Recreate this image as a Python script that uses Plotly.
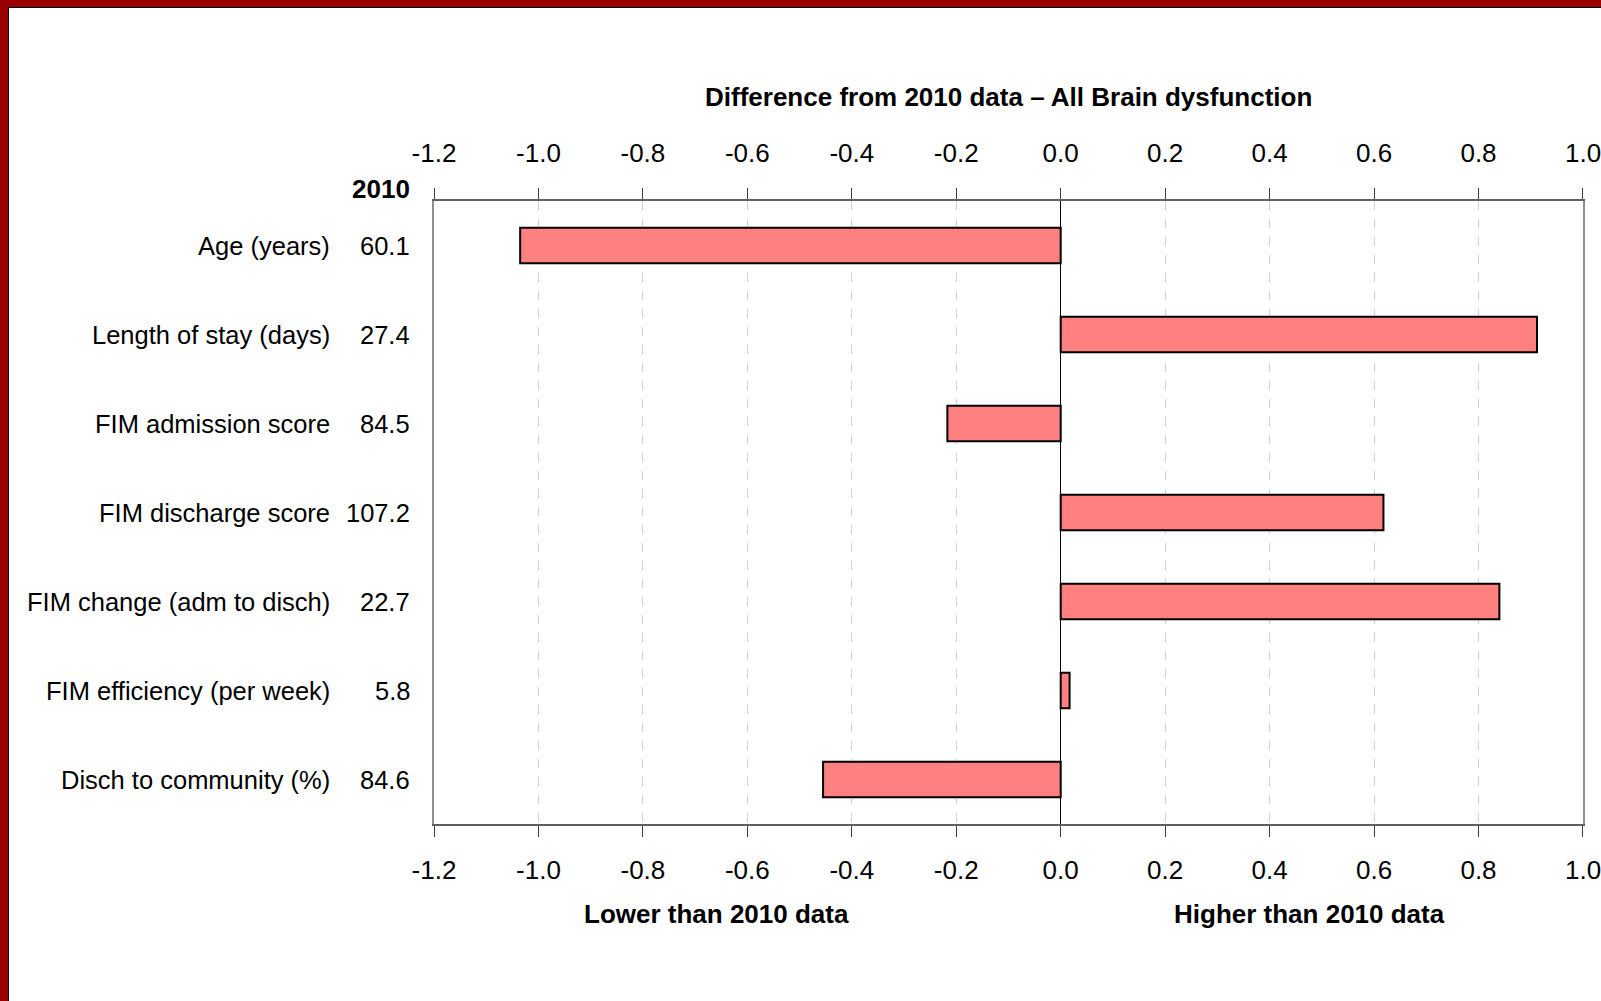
import plotly.graph_objects as go

categories = ["Age (years)", "Length of stay (days)", "FIM admission score",
              "FIM discharge score", "FIM change (adm to disch)",
              "FIM efficiency (per week)", "Disch to community (%)"]
values_2010 = ["60.1", "27.4", "84.5", "107.2", "22.7", "5.8", "84.6"]
differences = [-1.035, 0.912, -0.217, 0.618, 0.840, 0.017, -0.455]
tick_vals = [-1.2, -1.0, -0.8, -0.6, -0.4, -0.2, 0.0, 0.2, 0.4, 0.6, 0.8, 1.0]
tick_text = ["%.1f" % v for v in tick_vals]

FONT = "Liberation Sans, Arial, sans-serif"
W, H = 1601, 1001
L, R, T, B = 434, 18, 201, 177
pw, ph = W - L - R, H - T - B
FS_TICK = 26
FS_LAB = 25.5
FS_BOLD = 26

# the last tick label is drawn as an annotation so it may run past the page edge
axis_text = tick_text[:-1] + [""]

fig = go.Figure()
fig.add_trace(go.Bar(
    x=differences, y=categories, orientation="h", width=0.4,
    marker=dict(color="#FF8080", line=dict(color="#000000", width=2)),
    hoverinfo="x+y", showlegend=False))
fig.add_trace(go.Scatter(x=[tick_vals[0], tick_vals[-1]], y=[categories[0], categories[0]],
                         xaxis="x2", mode="markers", marker=dict(opacity=0),
                         hoverinfo="skip", showlegend=False))

axis_common = dict(range=[-1.2, 1.0001], tickvals=tick_vals, ticktext=axis_text,
                   ticks="outside", ticklen=11, tickwidth=1, tickcolor="#404040",
                   tickfont=dict(family=FONT, size=FS_TICK, color="#000000"),
                   automargin=False, fixedrange=True)

fig.update_layout(
    width=W, height=H,
    margin=dict(l=L, r=R, t=T, b=B),
    paper_bgcolor="white", plot_bgcolor="white",
    font=dict(family=FONT, color="#000000"),
    bargap=0.6,
    xaxis=dict(**axis_common, side="bottom", ticklabelstandoff=11,
               showgrid=True, gridcolor="#D0D0D0",
               griddash="dash", gridwidth=1, zeroline=True, zerolinecolor="#000000",
               zerolinewidth=1, showline=True, linecolor="#606060", linewidth=2,
               mirror=False),
    xaxis2=dict(**axis_common, side="top", ticklabelstandoff=16, overlaying="x",
                showgrid=False, zeroline=False, showline=True, linecolor="#606060",
                linewidth=2),
    yaxis=dict(categoryorder="array", categoryarray=categories, autorange="reversed",
               showticklabels=False, showgrid=False, zeroline=False,
               showline=True, linecolor="#909090", linewidth=2, mirror=True,
               fixedrange=True),
)

lab_font = dict(family=FONT, size=FS_LAB, color="#000000")
bold_font = dict(family=FONT, size=FS_BOLD, color="#000000")
tick_font = dict(family=FONT, size=FS_TICK, color="#000000")
annotations = []
for cat, val in zip(categories, values_2010):
    annotations.append(dict(x=-0.0888, y=cat, xref="paper", yref="y", text=cat,
                            xanchor="right", yanchor="middle", showarrow=False,
                            font=lab_font))
    annotations.append(dict(x=-0.019, y=cat, xref="paper", yref="y", text=val,
                            xanchor="right", yanchor="middle", showarrow=False,
                            font=lab_font))
# last tick label at top and bottom
for ypix in (153, 870):
    annotations.append(dict(x=tick_vals[-1], y=(H - B - ypix) / ph, xref="x", yref="paper",
                            text=tick_text[-1], xanchor="center", yanchor="middle",
                            showarrow=False, font=tick_font))
annotations.append(dict(x=-0.019, y=(H - B - 189) / ph, xref="paper", yref="paper",
                        text="<b>2010</b>", xanchor="right", yanchor="middle",
                        showarrow=False, font=bold_font))
annotations.append(dict(x=0.5, y=(H - B - 97) / ph, xref="paper", yref="paper",
                        text="<b>Difference from 2010 data – All Brain dysfunction</b>",
                        xanchor="center", yanchor="middle", showarrow=False,
                        font=bold_font))
annotations.append(dict(x=-0.66, y=(H - B - 914) / ph, xref="x", yref="paper",
                        text="<b>Lower than 2010 data</b>", xanchor="center",
                        yanchor="middle", showarrow=False, font=bold_font))
annotations.append(dict(x=0.477, y=(H - B - 914) / ph, xref="x", yref="paper",
                        text="<b>Higher than 2010 data</b>", xanchor="center",
                        yanchor="middle", showarrow=False, font=bold_font))
fig.update_layout(annotations=annotations)

# dark red frame on top and left edges of the page
shapes = [
    dict(type="rect", xref="paper", yref="paper", x0=-L / pw, x1=(W - L) / pw,
         y0=(H - B) / ph, y1=(H - B - 7) / ph, fillcolor="#990000",
         line=dict(width=0), layer="above"),
    dict(type="rect", xref="paper", yref="paper", x0=-L / pw, x1=(-L + 8) / pw,
         y0=-B / ph, y1=(H - B) / ph, fillcolor="#990000",
         line=dict(width=0), layer="above"),
    dict(type="line", xref="paper", yref="paper", x0=(-L + 8) / pw, x1=(W - L) / pw,
         y0=(H - B - 7.5) / ph, y1=(H - B - 7.5) / ph, line=dict(color="#000000", width=1)),
    dict(type="line", xref="paper", yref="paper", x0=(-L + 8.5) / pw, x1=(-L + 8.5) / pw,
         y0=-B / ph, y1=(H - B - 7) / ph, line=dict(color="#000000", width=1)),
]
fig.update_layout(shapes=shapes)

post = "document.body.style.margin='0';document.body.style.overflow='hidden';"
fig.write_html("out.html", config={"displayModeBar": False}, post_script=post)
